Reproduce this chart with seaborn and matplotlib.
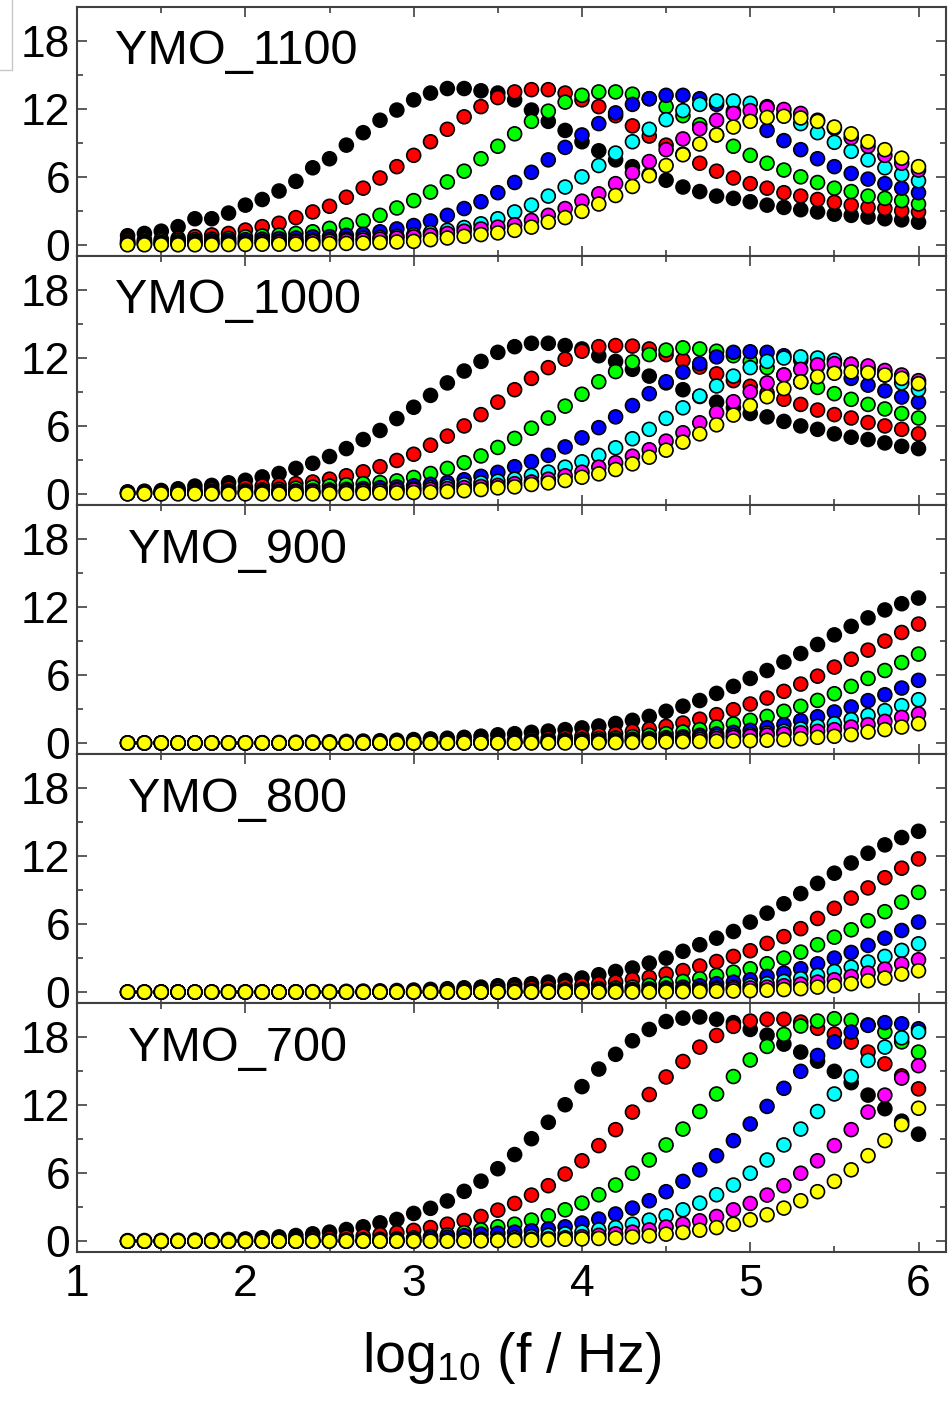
import pandas as pd
import seaborn as sns
import matplotlib.pyplot as plt
from matplotlib.ticker import MultipleLocator

# frequency grid, log10(f / Hz)
log_f = [1.3, 1.4, 1.5, 1.6, 1.7, 1.8, 1.9, 2.0,
         2.1, 2.2, 2.3, 2.4, 2.5, 2.6, 2.7, 2.8, 2.9, 3.0,
         3.1, 3.2, 3.3, 3.4, 3.5, 3.6, 3.7, 3.8, 3.9, 4.0,
         4.1, 4.2, 4.3, 4.4, 4.5, 4.6, 4.7, 4.8, 4.9, 5.0,
         5.1, 5.2, 5.3, 5.4, 5.5, 5.6, 5.7, 5.8, 5.9, 6.0]

series_names = ['black', 'red', 'green', 'blue', 'cyan', 'magenta', 'yellow']
series_colors = ['#000000', '#ff0000', '#00ff00', '#0000ff', '#00ffff', '#ff00ff', '#ffff00']

# --- YMO_1100 ---
ymo1100_black = [0.8, 1.0, 1.2, 1.6, 2.3, 2.3, 2.8, 3.5,
                 4.0, 4.75, 5.6, 6.8, 7.6, 8.8, 9.9, 11.0, 11.9, 12.8,
                 13.4, 13.8, 13.8, 13.6, 13.4, 12.8, 11.9, 10.9, 10.1, 9.1,
                 8.3, 7.5, 6.9, 6.2, 5.7, 5.1, 4.7, 4.3, 4.1, 3.8,
                 3.5, 3.3, 3.1, 2.9, 2.7, 2.6, 2.45, 2.3, 2.2, 2.0]
ymo1100_red = [0.4, 0.45, 0.5, 0.57, 0.72, 0.87, 1.0, 1.3,
               1.6, 1.9, 2.4, 2.9, 3.4, 4.2, 5.0, 5.9, 6.9, 7.9,
               9.1, 10.2, 11.3, 12.2, 13.0, 13.5, 13.7, 13.7, 13.4, 12.8,
               12.2, 11.4, 10.5, 9.6, 8.8, 8.0, 7.2, 6.5, 5.9, 5.4,
               5.0, 4.6, 4.3, 4.0, 3.75, 3.5, 3.3, 3.2, 3.0, 2.9]
ymo1100_green = [0.25, 0.3, 0.35, 0.4, 0.45, 0.5, 0.57, 0.7,
                 0.78, 0.85, 1.0, 1.15, 1.45, 1.75, 2.1, 2.6, 3.25, 3.9,
                 4.65, 5.55, 6.5, 7.6, 8.7, 9.8, 10.9, 11.8, 12.6, 13.2,
                 13.5, 13.5, 13.3, 12.9, 12.2, 11.4, 10.6, 9.7, 8.7, 7.9,
                 7.2, 6.6, 6.0, 5.5, 5.0, 4.7, 4.3, 4.1, 3.9, 3.6]
ymo1100_blue = [0.15, 0.2, 0.2, 0.25, 0.3, 0.35, 0.4, 0.45,
                0.5, 0.55, 0.6, 0.7, 0.72, 0.84, 0.93, 1.15, 1.4, 1.7,
                2.1, 2.6, 3.2, 3.8, 4.6, 5.5, 6.4, 7.5, 8.6, 9.7,
                10.7, 11.65, 12.4, 12.9, 13.2, 13.2, 12.9, 12.4, 11.8, 11.0,
                10.1, 9.2, 8.4, 7.6, 6.9, 6.3, 5.8, 5.4, 5.0, 4.6]
ymo1100_cyan = [0.1, 0.1, 0.12, 0.15, 0.17, 0.2, 0.22, 0.25,
                0.28, 0.3, 0.35, 0.4, 0.45, 0.5, 0.58, 0.65, 0.75, 0.88,
                1.07, 1.28, 1.52, 1.85, 2.3, 2.9, 3.5, 4.3, 5.1, 6.0,
                7.0, 8.1, 9.1, 10.2, 11.05, 11.85, 12.4, 12.7, 12.7, 12.5,
                12.2, 11.5, 10.7, 9.9, 9.05, 8.25, 7.5, 6.8, 6.2, 5.65]
ymo1100_magenta = [0.05, 0.06, 0.07, 0.08, 0.1, 0.12, 0.14, 0.16,
                   0.19, 0.22, 0.25, 0.29, 0.33, 0.37, 0.42, 0.5, 0.6, 0.7,
                   0.85, 1.0, 1.2, 1.4, 1.56, 1.77, 2.15, 2.6, 3.2, 3.85,
                   4.5, 5.4, 6.35, 7.35, 8.4, 9.35, 10.25, 11.0, 11.6, 11.85,
                   12.1, 11.95, 11.6, 11.0, 10.3, 9.45, 8.7, 7.9, 7.2, 6.6]
ymo1100_yellow = [0.0, 0.0, 0.0, 0.0, 0.0, 0.0, 0.02, 0.03,
                  0.05, 0.05, 0.07, 0.08, 0.1, 0.12, 0.15, 0.2, 0.25, 0.3,
                  0.45, 0.6, 0.75, 0.9, 1.05, 1.27, 1.56, 2.0, 2.4, 2.95,
                  3.6, 4.35, 5.15, 6.1, 7.0, 7.95, 8.9, 9.7, 10.4, 10.9,
                  11.25, 11.35, 11.2, 10.9, 10.4, 9.8, 9.1, 8.4, 7.65, 6.9]

# --- YMO_1000 ---
ymo1000_black = [0.18, 0.24, 0.3, 0.45, 0.69, 0.75, 0.98, 1.2,
                 1.5, 1.8, 2.25, 2.7, 3.3, 4.0, 4.8, 5.6, 6.65, 7.65,
                 8.7, 9.8, 10.85, 11.7, 12.5, 13.0, 13.3, 13.3, 13.1, 12.8,
                 12.2, 11.7, 11.0, 10.4, 9.8, 9.2, 8.6, 8.1, 7.6, 7.1,
                 6.8, 6.4, 6.0, 5.7, 5.3, 5.0, 4.8, 4.5, 4.2, 4.0]
ymo1000_red = [0.15, 0.18, 0.22, 0.27, 0.32, 0.4, 0.5, 0.6,
               0.7, 0.78, 0.9, 1.05, 1.3, 1.6, 1.95, 2.4, 2.95, 3.5,
               4.3, 5.1, 6.0, 7.0, 8.1, 9.2, 10.2, 11.15, 11.9, 12.6,
               13.0, 13.1, 13.05, 12.8, 12.3, 11.8, 11.2, 10.6, 10.0, 9.5,
               8.9, 8.35, 7.9, 7.4, 7.0, 6.7, 6.3, 6.0, 5.7, 5.3]
ymo1000_green = [0.1, 0.12, 0.15, 0.18, 0.2, 0.23, 0.27, 0.3,
                 0.35, 0.4, 0.5, 0.6, 0.7, 0.8, 0.9, 1.0, 1.15, 1.45,
                 1.8, 2.25, 2.75, 3.35, 4.1, 4.9, 5.8, 6.7, 7.75, 8.8,
                 9.9, 10.8, 11.65, 12.3, 12.7, 12.9, 12.8, 12.6, 12.2, 11.7,
                 11.15, 10.5, 9.9, 9.4, 8.85, 8.35, 7.9, 7.5, 7.1, 6.7]
ymo1000_blue = [0.05, 0.07, 0.09, 0.1, 0.12, 0.14, 0.16, 0.18,
                0.2, 0.23, 0.26, 0.3, 0.35, 0.4, 0.47, 0.55, 0.62, 0.72,
                0.85, 1.0, 1.25, 1.55, 1.9, 2.4, 2.85, 3.4, 4.15, 4.95,
                5.85, 6.8, 7.8, 8.85, 9.9, 10.75, 11.5, 12.1, 12.5, 12.55,
                12.5, 12.2, 11.8, 11.3, 10.75, 10.2, 9.6, 9.1, 8.55, 8.1]
ymo1000_cyan = [0.03, 0.04, 0.05, 0.06, 0.07, 0.08, 0.09, 0.1,
                0.12, 0.14, 0.16, 0.18, 0.21, 0.24, 0.28, 0.32, 0.37, 0.45,
                0.55, 0.68, 0.82, 0.97, 1.12, 1.3, 1.62, 1.92, 2.36, 2.83,
                3.4, 4.07, 4.87, 5.7, 6.67, 7.6, 8.64, 9.53, 10.4, 11.15,
                11.7, 12.0, 12.1, 12.0, 11.8, 11.45, 11.0, 10.5, 9.8, 9.2]
ymo1000_magenta = [0.02, 0.03, 0.04, 0.05, 0.06, 0.07, 0.08, 0.09,
                   0.1, 0.12, 0.14, 0.16, 0.18, 0.2, 0.23, 0.26, 0.3, 0.35,
                   0.4, 0.47, 0.55, 0.65, 0.75, 0.9, 1.05, 1.3, 1.6, 1.92,
                   2.36, 2.75, 3.33, 3.9, 4.66, 5.4, 6.28, 7.17, 8.14, 9.0,
                   9.8, 10.5, 11.0, 11.4, 11.5, 11.45, 11.3, 10.9, 10.5, 10.0]
ymo1000_yellow = [0.0, 0.0, 0.0, 0.0, 0.0, 0.0, 0.0, 0.0,
                  0.0, 0.0, 0.0, 0.0, 0.02, 0.04, 0.05, 0.07, 0.09, 0.12,
                  0.15, 0.2, 0.28, 0.38, 0.53, 0.62, 0.83, 0.97, 1.18, 1.47,
                  1.77, 2.15, 2.65, 3.24, 3.86, 4.57, 5.3, 6.1, 6.96, 7.8,
                  8.58, 9.3, 9.9, 10.35, 10.65, 10.77, 10.7, 10.5, 10.2, 9.73]

# --- YMO_900 ---
ymo900_black = [0.0, 0.0, 0.0, 0.0, 0.0, 0.0, 0.0, 0.02,
                0.03, 0.05, 0.07, 0.09, 0.11, 0.14, 0.17, 0.2, 0.24, 0.3,
                0.36, 0.42, 0.5, 0.6, 0.72, 0.82, 0.94, 1.05, 1.18, 1.33,
                1.5, 1.72, 2.0, 2.35, 2.8, 3.25, 3.75, 4.38, 5.0, 5.7,
                6.4, 7.15, 7.9, 8.7, 9.55, 10.3, 11.05, 11.75, 12.3, 12.8]
ymo900_red = [0.0, 0.0, 0.0, 0.0, 0.0, 0.0, 0.0, 0.0,
              0.0, 0.0, 0.0, 0.0, 0.0, 0.02, 0.03, 0.05, 0.07, 0.09,
              0.11, 0.14, 0.17, 0.2, 0.24, 0.29, 0.35, 0.42, 0.5, 0.6,
              0.7, 0.82, 1.03, 1.24, 1.47, 1.76, 2.1, 2.5, 2.94, 3.44,
              3.97, 4.56, 5.2, 5.9, 6.7, 7.4, 8.2, 9.0, 9.76, 10.5]
ymo900_green = [0.0, 0.0, 0.0, 0.0, 0.0, 0.0, 0.0, 0.0,
                0.0, 0.0, 0.0, 0.0, 0.0, 0.0, 0.0, 0.0, 0.02, 0.03,
                0.05, 0.06, 0.08, 0.1, 0.12, 0.15, 0.18, 0.22, 0.27, 0.32,
                0.38, 0.44, 0.56, 0.68, 0.82, 0.97, 1.18, 1.41, 1.68, 2.0,
                2.35, 2.8, 3.24, 3.76, 4.35, 5.0, 5.7, 6.4, 7.1, 7.85]
ymo900_blue = [0.0, 0.0, 0.0, 0.0, 0.0, 0.0, 0.0, 0.0,
               0.0, 0.0, 0.0, 0.0, 0.0, 0.0, 0.0, 0.0, 0.0, 0.0,
               0.02, 0.03, 0.04, 0.05, 0.07, 0.08, 0.1, 0.12, 0.15, 0.18,
               0.22, 0.27, 0.33, 0.4, 0.47, 0.55, 0.68, 0.8, 0.94, 1.12,
               1.35, 1.62, 1.97, 2.32, 2.74, 3.18, 3.74, 4.26, 4.85, 5.53]
ymo900_cyan = [0.0, 0.0, 0.0, 0.0, 0.0, 0.0, 0.0, 0.0,
               0.0, 0.0, 0.0, 0.0, 0.0, 0.0, 0.0, 0.0, 0.0, 0.0,
               0.0, 0.0, 0.02, 0.03, 0.04, 0.05, 0.06, 0.08, 0.1, 0.12,
               0.15, 0.18, 0.22, 0.27, 0.32, 0.4, 0.48, 0.57, 0.65, 0.74,
               0.88, 1.03, 1.24, 1.47, 1.7, 2.06, 2.44, 2.85, 3.3, 3.82]
ymo900_magenta = [0.0, 0.0, 0.0, 0.0, 0.0, 0.0, 0.0, 0.0,
                  0.0, 0.0, 0.0, 0.0, 0.0, 0.0, 0.0, 0.0, 0.0, 0.0,
                  0.0, 0.0, 0.0, 0.0, 0.02, 0.03, 0.04, 0.05, 0.06, 0.08,
                  0.1, 0.12, 0.15, 0.18, 0.22, 0.27, 0.33, 0.4, 0.5, 0.6,
                  0.7, 0.8, 0.9, 1.03, 1.18, 1.41, 1.62, 1.91, 2.26, 2.56]
ymo900_yellow = [0.0, 0.0, 0.0, 0.0, 0.0, 0.0, 0.0, 0.0,
                 0.0, 0.0, 0.0, 0.0, 0.0, 0.0, 0.0, 0.0, 0.0, 0.0,
                 0.0, 0.0, 0.0, 0.0, 0.0, 0.0, 0.0, 0.0, 0.0, 0.0,
                 0.02, 0.03, 0.05, 0.07, 0.09, 0.11, 0.13, 0.15, 0.18, 0.2,
                 0.24, 0.29, 0.38, 0.5, 0.59, 0.74, 0.97, 1.18, 1.41, 1.7]

# --- YMO_800 ---
ymo800_black = [0.0, 0.0, 0.0, 0.0, 0.0, 0.0, 0.0, 0.0,
                0.01, 0.02, 0.03, 0.04, 0.05, 0.07, 0.09, 0.11, 0.14, 0.18,
                0.24, 0.3, 0.38, 0.44, 0.56, 0.65, 0.74, 0.88, 1.03, 1.24,
                1.53, 1.82, 2.12, 2.56, 3.0, 3.6, 4.18, 4.76, 5.35, 6.18,
                6.97, 7.8, 8.7, 9.6, 10.5, 11.4, 12.26, 13.0, 13.65, 14.2]
ymo800_red = [0.0, 0.0, 0.0, 0.0, 0.0, 0.0, 0.0, 0.0,
              0.0, 0.0, 0.0, 0.0, 0.0, 0.0, 0.02, 0.03, 0.05, 0.07,
              0.09, 0.12, 0.15, 0.19, 0.24, 0.29, 0.35, 0.42, 0.5, 0.6,
              0.74, 0.88, 1.1, 1.3, 1.6, 1.9, 2.3, 2.7, 3.15, 3.65,
              4.3, 4.9, 5.6, 6.5, 7.4, 8.3, 9.2, 10.1, 10.94, 11.76]
ymo800_green = [0.0, 0.0, 0.0, 0.0, 0.0, 0.0, 0.0, 0.0,
                0.0, 0.0, 0.0, 0.0, 0.0, 0.0, 0.0, 0.0, 0.0, 0.0,
                0.0, 0.02, 0.03, 0.05, 0.07, 0.09, 0.12, 0.15, 0.19, 0.24,
                0.3, 0.36, 0.44, 0.6, 0.74, 0.94, 1.18, 1.47, 1.76, 2.06,
                2.5, 3.0, 3.53, 4.18, 4.85, 5.5, 6.3, 7.1, 7.94, 8.8]
ymo800_blue = [0.0, 0.0, 0.0, 0.0, 0.0, 0.0, 0.0, 0.0,
               0.0, 0.0, 0.0, 0.0, 0.0, 0.0, 0.0, 0.0, 0.0, 0.0,
               0.0, 0.0, 0.0, 0.0, 0.02, 0.03, 0.05, 0.07, 0.09, 0.12,
               0.15, 0.19, 0.24, 0.3, 0.36, 0.44, 0.56, 0.74, 0.88, 1.09,
               1.38, 1.68, 2.06, 2.5, 3.0, 3.5, 4.12, 4.76, 5.44, 6.18]
ymo800_cyan = [0.0, 0.0, 0.0, 0.0, 0.0, 0.0, 0.0, 0.0,
               0.0, 0.0, 0.0, 0.0, 0.0, 0.0, 0.0, 0.0, 0.0, 0.0,
               0.0, 0.0, 0.0, 0.0, 0.0, 0.0, 0.0, 0.02, 0.03, 0.04,
               0.06, 0.08, 0.11, 0.14, 0.18, 0.23, 0.29, 0.36, 0.44, 0.6,
               0.74, 0.94, 1.18, 1.47, 1.82, 2.2, 2.65, 3.15, 3.68, 4.26]
ymo800_magenta = [0.0, 0.0, 0.0, 0.0, 0.0, 0.0, 0.0, 0.0,
                  0.0, 0.0, 0.0, 0.0, 0.0, 0.0, 0.0, 0.0, 0.0, 0.0,
                  0.0, 0.0, 0.0, 0.0, 0.0, 0.0, 0.0, 0.0, 0.0, 0.02,
                  0.03, 0.04, 0.06, 0.08, 0.11, 0.14, 0.18, 0.23, 0.29, 0.36,
                  0.44, 0.56, 0.7, 0.88, 1.09, 1.38, 1.68, 2.03, 2.47, 2.85]
ymo800_yellow = [0.0, 0.0, 0.0, 0.0, 0.0, 0.0, 0.0, 0.0,
                 0.0, 0.0, 0.0, 0.0, 0.0, 0.0, 0.0, 0.0, 0.0, 0.0,
                 0.0, 0.0, 0.0, 0.0, 0.0, 0.0, 0.0, 0.0, 0.0, 0.0,
                 0.0, 0.0, 0.0, 0.0, 0.02, 0.03, 0.05, 0.07, 0.09, 0.12,
                 0.16, 0.22, 0.3, 0.44, 0.56, 0.74, 1.0, 1.24, 1.59, 1.88]

# --- YMO_700 ---
ymo700_black = [0.05, 0.06, 0.07, 0.08, 0.1, 0.12, 0.15, 0.2,
                0.3, 0.38, 0.5, 0.65, 0.8, 1.03, 1.27, 1.62, 1.92, 2.45,
                2.9, 3.55, 4.4, 5.3, 6.4, 7.65, 9.05, 10.5, 12.05, 13.65,
                15.2, 16.5, 17.7, 18.7, 19.4, 19.7, 19.8, 19.6, 19.3, 18.7,
                18.2, 17.4, 16.7, 15.9, 15.0, 14.0, 12.9, 11.7, 10.6, 9.45]
ymo700_red = [0.0, 0.0, 0.02, 0.03, 0.04, 0.05, 0.06, 0.08,
              0.1, 0.13, 0.17, 0.22, 0.28, 0.36, 0.45, 0.58, 0.75, 0.95,
              1.2, 1.5, 1.82, 2.18, 2.74, 3.33, 4.07, 4.9, 5.93, 7.1,
              8.44, 9.85, 11.4, 12.95, 14.5, 15.87, 17.14, 18.17, 18.97, 19.44,
              19.6, 19.6, 19.35, 18.8, 18.3, 17.58, 16.7, 15.66, 14.6, 13.45]
ymo700_green = [0.0, 0.0, 0.0, 0.0, 0.0, 0.0, 0.0, 0.0,
                0.0, 0.02, 0.03, 0.05, 0.07, 0.1, 0.13, 0.17, 0.22, 0.3,
                0.4, 0.55, 0.75, 1.0, 1.27, 1.5, 1.86, 2.24, 2.77, 3.36,
                4.1, 4.96, 6.0, 7.17, 8.5, 9.9, 11.45, 13.0, 14.54, 16.0,
                17.2, 18.26, 19.0, 19.44, 19.65, 19.5, 19.1, 18.47, 17.6, 16.7]
ymo700_blue = [0.0, 0.0, 0.0, 0.0, 0.0, 0.0, 0.0, 0.0,
               0.0, 0.0, 0.0, 0.02, 0.03, 0.04, 0.06, 0.08, 0.12, 0.18,
               0.26, 0.36, 0.48, 0.62, 0.7, 0.8, 0.92, 1.08, 1.27, 1.6,
               1.95, 2.4, 2.92, 3.57, 4.37, 5.28, 6.3, 7.55, 8.88, 10.35,
               11.9, 13.5, 15.0, 16.4, 17.6, 18.47, 19.06, 19.3, 19.2, 18.76]
ymo700_cyan = [0.0, 0.0, 0.0, 0.0, 0.0, 0.0, 0.0, 0.0,
               0.0, 0.0, 0.0, 0.0, 0.0, 0.0, 0.0, 0.02, 0.03, 0.05,
               0.07, 0.1, 0.13, 0.17, 0.22, 0.3, 0.4, 0.52, 0.65, 0.8,
               1.0, 1.2, 1.5, 1.86, 2.24, 2.77, 3.36, 4.1, 4.96, 6.0,
               7.17, 8.5, 9.9, 11.45, 13.0, 14.54, 15.96, 17.14, 17.96, 18.47]
ymo700_magenta = [0.0, 0.0, 0.0, 0.0, 0.0, 0.0, 0.0, 0.0,
                  0.0, 0.0, 0.0, 0.0, 0.0, 0.0, 0.0, 0.0, 0.0, 0.0,
                  0.02, 0.03, 0.05, 0.07, 0.1, 0.13, 0.17, 0.22, 0.3, 0.4,
                  0.52, 0.65, 0.8, 1.0, 1.25, 1.5, 1.8, 2.18, 2.77, 3.33,
                  4.07, 4.9, 6.0, 7.1, 8.44, 9.85, 11.4, 12.9, 14.4, 15.5]
ymo700_yellow = [0.0, 0.0, 0.0, 0.0, 0.0, 0.0, 0.0, 0.0,
                 0.0, 0.0, 0.0, 0.0, 0.0, 0.0, 0.0, 0.0, 0.0, 0.0,
                 0.0, 0.0, 0.02, 0.03, 0.05, 0.07, 0.1, 0.13, 0.17, 0.2,
                 0.24, 0.27, 0.38, 0.47, 0.62, 0.77, 0.97, 1.2, 1.5, 1.89,
                 2.33, 2.92, 3.57, 4.37, 5.28, 6.3, 7.55, 8.88, 10.3, 11.74]

panels = [
    ('YMO_1100', [ymo1100_black, ymo1100_red, ymo1100_green, ymo1100_blue,
                  ymo1100_cyan, ymo1100_magenta, ymo1100_yellow]),
    ('YMO_1000', [ymo1000_black, ymo1000_red, ymo1000_green, ymo1000_blue,
                  ymo1000_cyan, ymo1000_magenta, ymo1000_yellow]),
    ('YMO_900', [ymo900_black, ymo900_red, ymo900_green, ymo900_blue,
                 ymo900_cyan, ymo900_magenta, ymo900_yellow]),
    ('YMO_800', [ymo800_black, ymo800_red, ymo800_green, ymo800_blue,
                 ymo800_cyan, ymo800_magenta, ymo800_yellow]),
    ('YMO_700', [ymo700_black, ymo700_red, ymo700_green, ymo700_blue,
                 ymo700_cyan, ymo700_magenta, ymo700_yellow]),
]

# long table, black first so yellow ends up drawn on top
frames = []
for name, series in panels:
    for s_name, vals in zip(series_names, series):
        frames.append(pd.DataFrame({'logf': log_f, 'val': vals,
                                    'series': s_name, 'sample': name}))
df = pd.concat(frames, ignore_index=True)

sns.set_style('ticks')
plt.rcParams['font.family'] = ['Liberation Sans', 'DejaVu Sans']
plt.rcParams['mathtext.fontset'] = 'custom'
plt.rcParams['mathtext.rm'] = 'Liberation Sans'
plt.rcParams['mathtext.default'] = 'regular'
plt.rcParams['text.color'] = 'black'
plt.rcParams['axes.labelcolor'] = 'black'

fig, axes = plt.subplots(5, 1, sharex=True, figsize=(9.52, 14.01), dpi=100)
fig.subplots_adjust(left=0.081, right=0.994, top=0.995, bottom=0.106, hspace=0)

frame_col = '#404040'
label_x = {'YMO_1100': 0.044, 'YMO_1000': 0.044}

for ax, (name, _) in zip(axes, panels):
    sub = df[df['sample'] == name]
    sns.scatterplot(data=sub, x='logf', y='val', hue='series',
                    hue_order=series_names,
                    palette=dict(zip(series_names, series_colors)),
                    s=100, edgecolor='black', linewidth=1.2,
                    legend=False, ax=ax, zorder=3, clip_on=False)
    ax.set_xlim(1, 6.165)
    ax.set_ylim(-1.0, 21.0)
    ax.set_yticks([0, 6, 12, 18])
    ax.yaxis.set_minor_locator(MultipleLocator(3))
    ax.xaxis.set_major_locator(MultipleLocator(1))
    ax.xaxis.set_minor_locator(MultipleLocator(0.5))
    ax.tick_params(which='both', direction='in', top=True, right=True,
                   color=frame_col, labelcolor='black', width=1.2, labelsize=32)
    ax.tick_params(which='major', length=7)
    ax.tick_params(which='minor', length=4)
    ax.tick_params(axis='y', pad=5)
    ax.tick_params(axis='x', pad=8)
    for sp in ax.spines.values():
        sp.set_color(frame_col)
        sp.set_linewidth(1.5)
    ax.set_ylabel('')
    ax.set_xlabel('')
    ax.text(label_x.get(name, 0.058), 0.82, name, transform=ax.transAxes,
            fontsize=35, color='black', ha='left', va='center')

axes[-1].set_xlabel(r'log$_{10}$ (f / Hz)', fontsize=40, labelpad=18,
                    color='black')

# faint box remnant in the top-left corner
fig.add_artist(plt.Line2D([12 / 952, 12 / 952], [1.0, 1 - 70 / 1401],
                          transform=fig.transFigure, color='#c8c8c8', lw=1))
fig.add_artist(plt.Line2D([0, 12 / 952], [1 - 70 / 1401, 1 - 70 / 1401],
                          transform=fig.transFigure, color='#c8c8c8', lw=1))

fig.savefig('out.png', dpi=100)
